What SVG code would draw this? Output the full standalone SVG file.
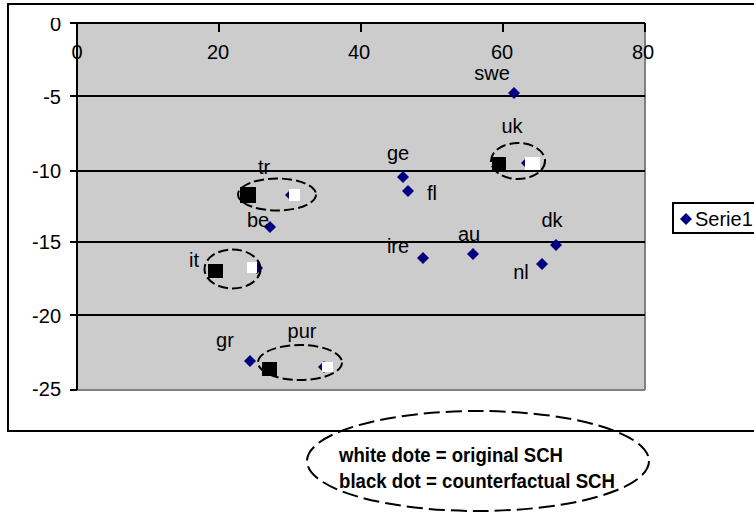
<svg xmlns="http://www.w3.org/2000/svg" width="754" height="518" viewBox="0 0 754 518">
<style>
.lbl{font-family:"Liberation Sans",Arial,sans-serif;font-size:20px;fill:#000}
.ax{font-family:"Liberation Sans",Arial,sans-serif;font-size:20px;fill:#000}
.grid{stroke:#000;stroke-width:2}
.tick{stroke:#000;stroke-width:2}
.pt{fill:#000080}
.ell{fill:none;stroke:#000;stroke-width:2;stroke-dasharray:10 4}
.blk{fill:#000}
.wht{fill:#fff}
.note{font-family:"Liberation Sans",Arial,sans-serif;font-size:20px;font-weight:bold;fill:#000}
</style>
<defs>
<path id="dia" d="M0,-6 L6,0 L0,6 L-6,0 Z"/>
<clipPath id="topclip"><rect x="0" y="18" width="100" height="30"/></clipPath>
</defs>
<rect x="0" y="0" width="754" height="518" fill="#fff"/>
<g id="frame">
<rect x="8" y="4" width="760" height="427" fill="none" stroke="#000" stroke-width="2"/>
</g>
<g id="plot">
<rect x="77" y="23" width="568" height="367" fill="#CCCCCC"/>
<line x1="645" y1="23" x2="645" y2="390" stroke="#808080" stroke-width="2"/>
<line x1="77" y1="390" x2="645" y2="390" stroke="#808080" stroke-width="2"/>
<line class="grid" x1="77" y1="96" x2="645" y2="96"/>
<line class="grid" x1="77" y1="171" x2="645" y2="171"/>
<line class="grid" x1="77" y1="242" x2="645" y2="242"/>
<line class="grid" x1="77" y1="315" x2="645" y2="315"/>
<line class="tick" x1="70" y1="23" x2="645" y2="23"/>
<line class="tick" x1="77" y1="23" x2="77" y2="390"/>
<line class="tick" x1="219" y1="23" x2="219" y2="32"/>
<line class="tick" x1="361" y1="23" x2="361" y2="32"/>
<line class="tick" x1="503" y1="23" x2="503" y2="32"/>
<line class="tick" x1="645" y1="23" x2="645" y2="32"/>
<line class="tick" x1="70" y1="96" x2="77" y2="96"/>
<line class="tick" x1="70" y1="171" x2="77" y2="171"/>
<line class="tick" x1="70" y1="242" x2="77" y2="242"/>
<line class="tick" x1="70" y1="315" x2="77" y2="315"/>
<line class="tick" x1="70" y1="390" x2="77" y2="390"/>
</g>
<g id="axis-labels">
<text class="ax" x="77" y="59" text-anchor="middle">0</text>
<text class="ax" x="218" y="59" text-anchor="middle">20</text>
<text class="ax" x="359" y="59" text-anchor="middle">40</text>
<text class="ax" x="502" y="59" text-anchor="middle">60</text>
<text class="ax" x="643" y="59" text-anchor="middle">80</text>
<text class="ax" x="61" y="31" text-anchor="end" clip-path="url(#topclip)">0</text>
<text class="ax" x="61" y="104" text-anchor="end">-5</text>
<text class="ax" x="61" y="178" text-anchor="end">-10</text>
<text class="ax" x="61" y="249" text-anchor="end">-15</text>
<text class="ax" x="61" y="323" text-anchor="end">-20</text>
<text class="ax" x="61" y="396" text-anchor="end">-25</text>
</g>
<g id="connectors"></g>
<g id="swe"><use href="#dia" class="pt" x="514" y="93"/><text class="lbl" x="492" y="80" text-anchor="middle">swe</text></g>
<g id="uk">
<use href="#dia" class="pt" x="527" y="163"/>
<rect class="blk" x="492" y="157" width="14" height="14"/>
<rect class="wht" x="525" y="157" width="15" height="13"/>
<ellipse class="ell" cx="518" cy="161" rx="27" ry="18"/>
<text class="lbl" x="512" y="133" text-anchor="middle">uk</text>
</g>
<g id="ge"><use href="#dia" class="pt" x="403" y="177"/><text class="lbl" x="398" y="160" text-anchor="middle">ge</text></g>
<g id="fl"><use href="#dia" class="pt" x="408" y="191"/><text class="lbl" x="432" y="200" text-anchor="middle">fl</text></g>
<g id="tr">
<use href="#dia" class="pt" x="291" y="195"/>
<rect class="blk" x="240" y="187" width="16" height="16"/>
<rect class="wht" x="289" y="189" width="11" height="12"/>
<ellipse class="ell" cx="277" cy="194.5" rx="39" ry="16"/>
<text class="lbl" x="264" y="174" text-anchor="middle">tr</text>
</g>
<g id="be"><use href="#dia" class="pt" x="270" y="227"/><text class="lbl" x="258" y="227" text-anchor="middle">be</text></g>
<g id="it">
<use href="#dia" class="pt" x="257" y="268"/>
<rect class="blk" x="208" y="264" width="15" height="14"/>
<rect class="wht" x="247" y="262" width="10" height="11"/>
<ellipse class="ell" cx="232.5" cy="269" rx="28" ry="19.5"/>
<text class="lbl" x="194" y="267" text-anchor="middle">it</text>
</g>
<g id="ire"><use href="#dia" class="pt" x="423" y="258"/><text class="lbl" x="398" y="253" text-anchor="middle">ire</text></g>
<g id="au"><use href="#dia" class="pt" x="473" y="254"/><text class="lbl" x="469" y="241" text-anchor="middle">au</text></g>
<g id="dk"><use href="#dia" class="pt" x="556" y="245"/><text class="lbl" x="552" y="227" text-anchor="middle">dk</text></g>
<g id="nl"><use href="#dia" class="pt" x="542" y="264"/><text class="lbl" x="521" y="279" text-anchor="middle">nl</text></g>
<g id="gr"><use href="#dia" class="pt" x="250" y="361"/><text class="lbl" x="225" y="347" text-anchor="middle">gr</text></g>
<g id="pur">
<use href="#dia" class="pt" x="324" y="367"/>
<rect class="blk" x="262" y="362" width="15" height="14"/>
<rect class="wht" x="322" y="362" width="11" height="10"/>
<ellipse class="ell" cx="300" cy="362.5" rx="42" ry="17.5"/>
<text class="lbl" x="302" y="338" text-anchor="middle">pur</text>
</g>
<g id="legend">
<rect x="673" y="203" width="100" height="30" fill="#fff" stroke="#000" stroke-width="2"/>
<use href="#dia" class="pt" x="686" y="219"/>
<text class="lbl" x="695" y="226" font-size="19">Serie1</text>
</g>
<g id="note">
<ellipse cx="478" cy="461" rx="171" ry="50" fill="none" stroke="#000" stroke-width="2" stroke-dasharray="16 6"/>
<text class="note" x="339" y="462" textLength="224" lengthAdjust="spacingAndGlyphs">white dote = original SCH</text>
<text class="note" x="339" y="488" textLength="276" lengthAdjust="spacingAndGlyphs">black dot = counterfactual SCH</text>
</g>
</svg>
